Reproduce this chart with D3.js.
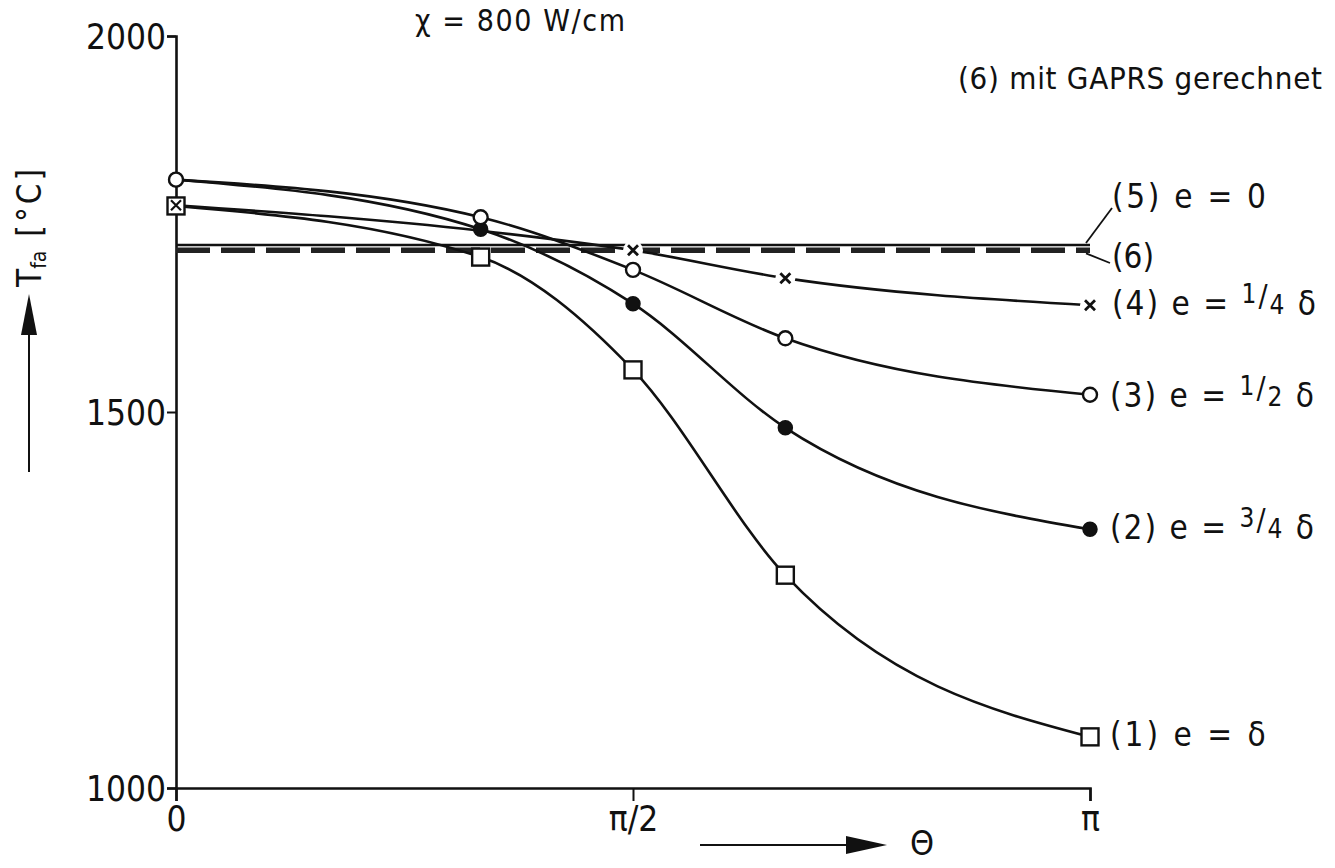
<!DOCTYPE html>
<html>
<head>
<meta charset="utf-8">
<script src="https://cdn.jsdelivr.net/npm/d3@7"></script>
<style>
  html, body { margin: 0; padding: 0; background: #fff; }
  svg { display: block; }
  text { font-family: "DejaVu Sans Condensed", "DejaVu Sans", sans-serif; font-stretch: condensed; fill: #111; }
</style>
</head>
<body>
<svg id="chart" width="1335" height="868"></svg>
<script>
// ---------------- data ----------------
const theta = [0, Math.PI / 3, Math.PI / 2, 2 * Math.PI / 3, Math.PI];
const thetaTicks = [0, Math.PI / 2, Math.PI];
const thetaTickLabels = ["0", "π/2", "π"];
const tempTicks = [1000, 1500, 2000];
const tempTickLabels = ["1000", "1500", "2000"];

// (1) e = δ        – open squares
const series1 = [1774, 1706, 1556, 1283, 1068];
// (2) e = 3/4 δ    – filled circles
const series2 = [1809, 1743, 1644, 1479, 1344];
// (3) e = 1/2 δ    – open circles
const series3 = [1809, 1759, 1689, 1598, 1523];
// (4) e = 1/4 δ    – crosses (no mark at π/3)
const series4 = [1775, 1741, 1715, 1678, 1642];
const series4Marked = [false, false, true, true, true];
// (5) e = 0 (solid) and (6) GAPRS (dashed) – constant levels
const series5 = [1722, 1722];
const series6 = [1715, 1715];
const flatTheta = [0, Math.PI];

// ---------------- layout ----------------
const svg = d3.select("#chart");
const x = d3.scaleLinear().domain([0, Math.PI]).range([176, 1090]);
const y = d3.scaleLinear().domain([1000, 2000]).range([788, 36]);

const line = d3.line().x(d => x(d[0])).y(d => y(d[1])).curve(d3.curveMonotoneX);
const pairs = s => theta.map((t, i) => [t, s[i]]);

// ---------------- axes ----------------
const yAxis = d3.axisLeft(y).tickValues(tempTicks).tickSize(9).tickFormat((d, i) => tempTickLabels[i]);
const gy = svg.append("g").attr("transform", `translate(${x(0)},0)`).call(yAxis);
gy.select(".domain").attr("stroke", "#111").attr("stroke-width", 2.6);
gy.selectAll(".tick line").attr("stroke", "#111").attr("stroke-width", 2);
gy.selectAll(".tick text").attr("font-size", 35).attr("x", -10).attr("dy", "0.36em")
  .style("font-family", null).style("fill", "#111");

const xAxis = d3.axisBottom(x).tickValues(thetaTicks).tickSize(13).tickFormat((d, i) => thetaTickLabels[i]);
const gx = svg.append("g").attr("transform", `translate(0,${y(1000)})`).call(xAxis);
gx.select(".domain").attr("stroke", "#111").attr("stroke-width", 2.6);
gx.selectAll(".tick line").attr("stroke", "#111").attr("stroke-width", 2);
gx.selectAll(".tick text").attr("font-size", 35).attr("y", 18).attr("dy", "0.71em").style("fill", "#111");
svg.selectAll(".tick text").attr("font-family", null);

// ---------------- reference levels (5) and (6) ----------------
svg.append("path").datum(flatTheta.map((t, i) => [t, series6[i]]))
  .attr("d", d3.line().x(d => x(d[0])).y(d => y(d[1])))
  .attr("fill", "none").attr("stroke", "#222").attr("stroke-width", 5.5)
  .attr("stroke-dasharray", "34 11");
svg.append("path").datum(flatTheta.map((t, i) => [t, series5[i]]))
  .attr("d", d3.line().x(d => x(d[0])).y(d => y(d[1])))
  .attr("fill", "none").attr("stroke", "#111").attr("stroke-width", 2.4);

// ---------------- curves ----------------
[series1, series2, series3, series4].forEach(s => {
  svg.append("path").datum(pairs(s)).attr("d", line)
    .attr("fill", "none").attr("stroke", "#111").attr("stroke-width", 2.6);
});

// ---------------- markers ----------------
const crossPts = pairs(series4).filter((d, i) => series4Marked[i]);
svg.selectAll(".xgap").data(crossPts).enter().append("circle")
  .attr("cx", d => x(d[0])).attr("cy", d => y(d[1])).attr("r", 10).attr("fill", "#fff");
svg.selectAll(".xm").data(crossPts).enter().append("path")
  .attr("transform", d => `translate(${x(d[0])},${y(d[1])})`)
  .attr("d", "M-5,-5L5,5M-5,5L5,-5")
  .attr("stroke", "#111").attr("stroke-width", 2.8).attr("fill", "none");

svg.selectAll(".fc").data(pairs(series2)).enter().append("circle")
  .attr("cx", d => x(d[0])).attr("cy", d => y(d[1])).attr("r", 7)
  .attr("fill", "#111").attr("stroke", "#111").attr("stroke-width", 1.5);
svg.selectAll(".oc").data(pairs(series3)).enter().append("circle")
  .attr("cx", d => x(d[0])).attr("cy", d => y(d[1])).attr("r", 7)
  .attr("fill", "#fff").attr("stroke", "#111").attr("stroke-width", 2.4);
svg.selectAll(".sq").data(pairs(series1)).enter().append("rect")
  .attr("x", d => x(d[0]) - 8.5).attr("y", d => y(d[1]) - 8.5).attr("width", 17).attr("height", 17)
  .attr("fill", "#fff").attr("stroke", "#111").attr("stroke-width", 2.4);
svg.append("path")
  .attr("transform", `translate(${x(theta[0])},${y(series4[0])})`)
  .attr("d", "M-5,-5L5,5M-5,5L5,-5")
  .attr("stroke", "#111").attr("stroke-width", 2.2).attr("fill", "none");

// ---------------- annotations ----------------
function fracLabel(xp, yp, lead, num, den, tail) {
  const t = svg.append("text").attr("x", xp).attr("y", yp).attr("font-size", 33)
    .attr("dominant-baseline", "middle").style("letter-spacing", "2px");
  t.append("tspan").text(lead);
  t.append("tspan").attr("font-size", 26).attr("dy", -10).text(num);
  t.append("tspan").attr("font-size", 30).attr("dy", 2).text("/");
  t.append("tspan").attr("font-size", 26).attr("dy", 9).text(den);
  t.append("tspan").attr("dy", -1).text(" " + tail);
  return t;
}

svg.append("text").attr("x", 415).attr("y", 22).attr("font-size", 30)
  .attr("dominant-baseline", "middle").attr("textLength", 210).attr("lengthAdjust", "spacing")
  .text("χ = 800 W/cm");
svg.append("text").attr("x", 958).attr("y", 80).attr("font-size", 31)
  .attr("dominant-baseline", "middle").attr("textLength", 364).attr("lengthAdjust", "spacing")
  .text("(6) mit GAPRS gerechnet");

svg.append("text").attr("x", 1112).attr("y", 198).attr("font-size", 33)
  .attr("dominant-baseline", "middle").attr("textLength", 154).attr("lengthAdjust", "spacing")
  .text("(5) e = 0");
svg.append("text").attr("x", 1112).attr("y", 258).attr("font-size", 33)
  .attr("dominant-baseline", "middle").text("(6)");
svg.append("path").attr("d", `M${x(Math.PI) - 4},${y(series5[1]) - 2}L1112,208`)
  .attr("stroke", "#111").attr("stroke-width", 1.8).attr("fill", "none");
svg.append("path").attr("d", `M${x(Math.PI) - 4},${y(series6[1]) + 3}L1110,263`)
  .attr("stroke", "#111").attr("stroke-width", 1.8).attr("fill", "none");

fracLabel(1112, y(series4[4]), "(4) e = ", "1", "4", "δ");
fracLabel(1110, y(series3[4]) + 2, "(3) e = ", "1", "2", "δ");
fracLabel(1110, y(series2[4]), "(2) e = ", "3", "4", "δ");
svg.append("text").attr("x", 1110).attr("y", y(series1[4])).attr("font-size", 33)
  .attr("dominant-baseline", "middle").style("letter-spacing", "3px").text("(1) e = δ");

// y-axis title with arrow
const yt = svg.append("text").attr("transform", "translate(41,287) rotate(-90)")
  .attr("font-size", 33);
yt.append("tspan").text("T");
yt.append("tspan").attr("font-size", 21).attr("dy", 5).text("fa");
yt.append("tspan").attr("dy", -5).attr("dx", 14).style("letter-spacing", "3px").text("[°C]");
svg.append("line").attr("x1", 29).attr("y1", 472).attr("x2", 29).attr("y2", 330)
  .attr("stroke", "#111").attr("stroke-width", 2);
svg.append("path").attr("d", "M29,294L21,335L37,335Z").attr("fill", "#111");

// x-axis title with arrow
svg.append("line").attr("x1", 700).attr("y1", 845).attr("x2", 850).attr("y2", 845)
  .attr("stroke", "#111").attr("stroke-width", 2);
svg.append("path").attr("d", "M887,845L846,836L846,854Z").attr("fill", "#111");
svg.append("text").attr("x", 922).attr("y", 845).attr("font-size", 34)
  .attr("text-anchor", "middle").attr("dominant-baseline", "middle").text("Θ");
</script>
</body>
</html>
